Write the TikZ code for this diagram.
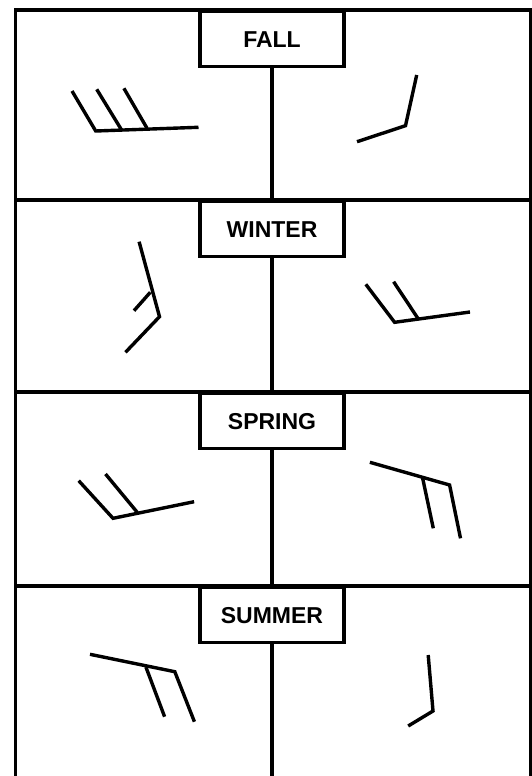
\documentclass[tikz,border=0pt]{standalone}
\usepackage{fontspec}
\setmainfont{Liberation Sans}
\begin{document}
\begin{tikzpicture}[x=1pt,y=-1pt,
  frame/.style={line width=3.2pt},
  season/.style={draw, line width=3.2pt, minimum width=144pt, minimum height=55pt,
    inner sep=0pt, anchor=north, fill=white,
    font=\fontsize{23}{23}\selectfont\bfseries},
  barb/.style={line width=3.4pt, line join=miter}]
\useasboundingbox (0,0) rectangle (532,776);
% outer frame (open at bottom) and dividers
\draw[frame] (15.5,776) -- (15.5,10) -- (530.5,10) -- (530.5,776);
\draw[frame] (15.5,200) -- (530.5,200);
\draw[frame] (15.5,392) -- (530.5,392);
\draw[frame] (15.5,586) -- (530.5,586);
% season labels
\node[season] (fall) at (272,10) {FALL};
\node[season] (winter) at (272,200) {WINTER};
\node[season] (spring) at (272,392) {SPRING};
\node[season] (summer) at (272,586) {SUMMER};
\coordinate (d1) at (272,200);
\coordinate (d2) at (272,392);
\coordinate (d3) at (272,586);
\coordinate (d4) at (272,776);
\draw[frame] (fall.south) -- (d1);
\draw[frame] (winter.south) -- (d2);
\draw[frame] (spring.south) -- (d3);
\draw[frame] (summer.south) -- (d4);
% FALL
\draw[barb] (72,91) -- (95.7,131) -- (198.5,127.3);
\draw[barb] (96.7,89.3) -- (121.5,129.8);
\draw[barb] (123.9,88.3) -- (147,128.2);
\draw[barb] (416.7,75) -- (405.5,125.7) -- (357,141.7);
% WINTER
\draw[barb] (139.1,241.7) -- (159.5,316.7) -- (125.5,352.3);
\draw[barb] (150.3,292.3) -- (134,310.7);
\draw[barb] (365.8,284.3) -- (394.6,322.3) -- (470,312);
\draw[barb] (393.6,281.7) -- (418,318.5);
% SPRING
\draw[barb] (78.7,480.7) -- (113,518.3) -- (194.1,501.7);
\draw[barb] (105.5,474) -- (137.4,512.5);
\draw[barb] (369.9,462.3) -- (449.6,485) -- (460.5,538.3);
\draw[barb] (422.5,477.5) -- (433.3,528.3);
% SUMMER
\draw[barb] (90,654.3) -- (174.8,671.7) -- (194.4,721.7);
\draw[barb] (145.9,667) -- (164.6,716.7);
\draw[barb] (428.2,655) -- (433,711) -- (408.2,726);
\end{tikzpicture}
\end{document}
